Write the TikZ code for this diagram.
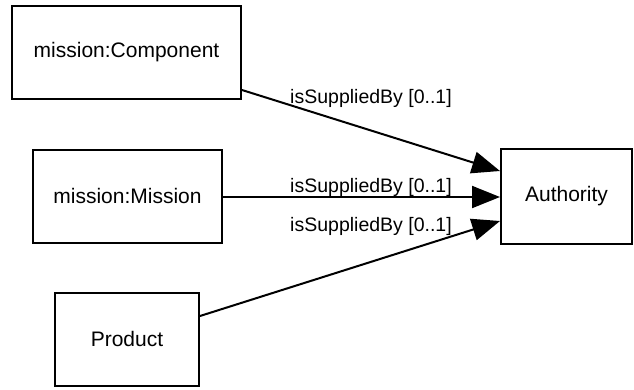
\documentclass[tikz,border=0pt]{standalone}
\usepackage{fontspec}
\setmainfont{Liberation Sans}
\usetikzlibrary{arrows.meta}
\begin{document}
\begin{tikzpicture}[x=1pt,y=-1pt,
  cls/.style={draw,line width=2pt,inner sep=0pt,font=\fontsize{21}{24}\selectfont},
  rel/.style={line width=2pt,-{Triangle[length=28pt,width=22pt]}},
  lbl/.style={font=\fontsize{19.5}{22}\selectfont,inner sep=0pt}]
\useasboundingbox (0,0) rectangle (634,389);
\node[cls,minimum width=229pt,minimum height=93pt] (comp) at (126.5,52.5) {mission:Component};
\node[cls,minimum width=189pt,minimum height=93pt] (miss) at (127.5,196) {mission:Mission};
\node[cls,minimum width=144pt,minimum height=93pt] (prod) at (127,339) {Product};
\node[cls,minimum width=131pt,minimum height=95pt] (auth) at (566.5,196.5) {Authority};
\draw[rel] (comp.east |- 0,90) -- (auth.west |- 0,171);
\draw[rel] (miss.east |- 0,197) -- (auth.west |- 0,197);
\draw[rel] (prod.east |- 0,316) -- (auth.west |- 0,221);
\node[lbl] (l1) at (371,98) {isSuppliedBy [0..1]};
\node[lbl] (l2) at (371,187) {isSuppliedBy [0..1]};
\node[lbl] (l3) at (371,226) {isSuppliedBy [0..1]};
\end{tikzpicture}
\end{document}
